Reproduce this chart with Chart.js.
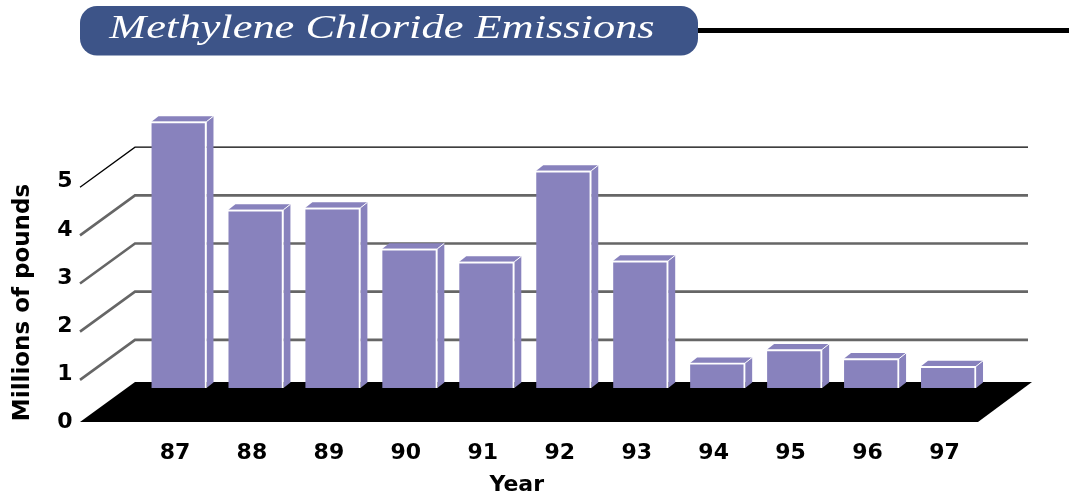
<!DOCTYPE html>
<html>
<head>
<meta charset="utf-8">
<style>html,body{margin:0;padding:0;background:#fff}#w{width:1069px;height:492px}</style>
<script src="https://cdn.jsdelivr.net/npm/chart.js@4/dist/chart.umd.min.js"></script>
</head>
<body>
<div id="w"><canvas id="c" width="1069" height="492"></canvas></div>
<script>
const years = ['87','88','89','90','91','92','93','94','95','96','97'];
const emissions = [5.53,3.70,3.74,2.89,2.62,4.51,2.64,0.52,0.80,0.61,0.45];
const yTicks = [0,1,2,3,4,5];
const chartTitle = 'Methylene Chloride Emissions';
const xTitle = 'Year';
const yTitle = 'Millions of pounds';

const BLUE = '#3d5488', BAR = '#8882bd', GRID = '#666666';

function shifted(scale, name, dx, dy) {
  if (scale['_w' + name]) return;
  scale['_w' + name] = true;
  const orig = scale[name].bind(scale);
  scale[name] = function () {
    const ctx = scale.ctx; ctx.save(); ctx.translate(dx, dy); orig.apply(null, arguments); ctx.restore();
  };
}

const scene = {
  id: 'scene',
  afterLayout(chart) {
    const t = chart.titleBlock;
    if (!t._wrapped) {
      t._wrapped = true;
      const orig = t.draw.bind(t);
      t.draw = function () {
        const ctx = t.ctx, cx = 382;
        ctx.save(); ctx.translate(cx, 0); ctx.scale(1.346, 1); ctx.translate(-cx, 0);
        const l = t.left, r = t.right; t.left = cx - 350; t.right = cx + 350;
        orig(); t.left = l; t.right = r; ctx.restore();
      };
    }
    shifted(chart.scales.x, 'drawTitle', -47, 4);
    shifted(chart.scales.y, 'drawTitle', 0, 59);
  },
  beforeDraw(chart) {
    const ctx = chart.ctx;
    ctx.save();
    ctx.strokeStyle = '#000'; ctx.lineWidth = 5;
    ctx.beginPath(); ctx.moveTo(690, 30.5); ctx.lineTo(1069, 30.5); ctx.stroke();
    ctx.fillStyle = BLUE;
    ctx.beginPath(); ctx.roundRect(80, 6, 618, 49.5, 17); ctx.fill();
    ctx.restore();
  },
  beforeDatasetsDraw(chart) {
    const ctx = chart.ctx, y = chart.scales.y;
    const y0 = y.getPixelForValue(0);
    ctx.save();
    yTicks.filter(v => v > 0).forEach(v => {
      const p = y.getPixelForValue(v);
      ctx.strokeStyle = v === 5 ? '#000' : GRID;
      ctx.lineWidth = v === 5 ? 1.3 : 2.6;
      ctx.beginPath(); ctx.moveTo(80, p + 40); ctx.lineTo(135, p); ctx.lineTo(1028, p); ctx.stroke();
    });
    ctx.fillStyle = '#000';
    ctx.beginPath();
    ctx.moveTo(80, y0 + 34); ctx.lineTo(135, y0 - 6); ctx.lineTo(1032, y0 - 6); ctx.lineTo(978, y0 + 34);
    ctx.closePath(); ctx.fill();
    const dx = 7, dy = 5.5;
    chart.getDatasetMeta(0).data.forEach(b => {
      const l = b.x - b.width / 2, r = b.x + b.width / 2;
      ctx.fillStyle = BAR;
      ctx.beginPath();
      ctx.moveTo(r, b.base); ctx.lineTo(r + dx, b.base - dy); ctx.lineTo(r + dx, b.y - dy); ctx.lineTo(r, b.y);
      ctx.closePath(); ctx.fill();
      ctx.beginPath();
      ctx.moveTo(l, b.y); ctx.lineTo(l + dx, b.y - dy); ctx.lineTo(r + dx, b.y - dy); ctx.lineTo(r, b.y);
      ctx.closePath(); ctx.fill();
      ctx.strokeStyle = '#ffffff'; ctx.lineWidth = 1;
      ctx.beginPath(); ctx.moveTo(r, b.y); ctx.lineTo(r + dx, b.y - dy); ctx.stroke();
    });
    ctx.restore();
  }
};

new Chart(document.getElementById('c'), {
  type: 'bar',
  data: {
    labels: years,
    datasets: [{
      data: emissions,
      backgroundColor: BAR,
      borderColor: '#ffffff',
      borderWidth: { top: 2, right: 2, left: 0, bottom: 0 },
      borderSkipped: false,
      barThickness: 55
    }]
  },
  options: {
    responsive: false,
    animation: false,
    layout: { padding: { top: 0, right: 82, bottom: 0, left: 0 } },
    plugins: {
      legend: { display: false },
      tooltip: { enabled: false },
      title: {
        display: true,
        text: chartTitle,
        align: 'center',
        color: '#ffffff',
        font: { family: '"Liberation Serif"', size: 33, style: 'italic', weight: 'normal', lineHeight: 1.2 },
        padding: { top: 10, bottom: 49.4 }
      }
    },
    scales: {
      x: {
        grid: { display: false, drawTicks: false },
        border: { display: false },
        ticks: {
          color: '#000',
          padding: 52,
          labelOffset: -4,
          maxRotation: 0,
          autoSkip: false,
          font: { family: '"DejaVu Sans"', size: 22, weight: 'bold', lineHeight: 1.2 }
        },
        title: {
          display: true,
          text: xTitle,
          color: '#000',
          padding: { top: 0, bottom: 0 },
          font: { family: '"DejaVu Sans"', size: 22, weight: 'bold', lineHeight: 1 }
        },
        afterFit(s) { s.height = 104; }
      },
      y: {
        min: 0,
        max: 6,
        grid: { display: false, drawTicks: false },
        border: { display: false },
        afterBuildTicks(s) { s.ticks = yTicks.map(v => ({ value: v })); },
        ticks: {
          color: '#000',
          padding: 68,
          labelOffset: 34.5,
          font: { family: '"DejaVu Sans"', size: 22, weight: 'bold', lineHeight: 1.2 }
        },
        title: {
          display: true,
          text: yTitle,
          color: '#000',
          padding: { top: 9, bottom: 0 },
          font: { family: '"DejaVu Sans"', size: 23, weight: 'bold', lineHeight: 1.2 }
        },
        afterFit(s) { s.width = 140.5; }
      }
    }
  },
  plugins: [scene]
});
</script>
</body>
</html>
